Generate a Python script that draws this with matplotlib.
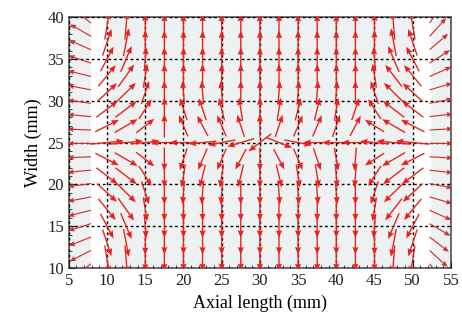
import numpy as np
import matplotlib.pyplot as plt

plt.rcParams['font.family'] = ['Liberation Serif', 'DejaVu Serif']

# grid of the main vector field (mm)
x_cols = [10, 12.5, 15, 17.5, 20, 22.5, 25, 27.5, 30, 32.5, 35, 37.5, 40, 42.5, 45, 47.5, 50]
y_rows = [39, 37, 35, 33, 31, 29, 27, 25, 23, 21, 19, 17, 15, 13, 11]

# arrow direction in degrees (0 = right, 90 = up), one row per y_rows entry
angle = [
    [80, 85, 90, 90, 90, 90, 90, 90, 90, 90, 90, 90, 90, 90, 90, 95, 100],
    [70, 78, 90, 90, 90, 90, 90, 90, 90, 90, 90, 90, 90, 90, 90, 102, 110],
    [60, 65, 85, 90, 90, 90, 90, 90, 90, 90, 90, 90, 90, 90, 95, 115, 120],
    [48, 52, 80, 90, 90, 90, 90, 90, 90, 90, 90, 90, 90, 90, 100, 130, 132],
    [40, 42, 70, 90, 95, 95, 95, 90, 90, 85, 85, 85, 85, 90, 110, 138, 140],
    [35, 35, 55, 90, 110, 110, 105, 100, 90, 80, 75, 75, 80, 70, 125, 145, 145],
    [25, 28, 35, 90, 115, 120, 115, 110, 90, 70, 65, 65, 70, 60, 150, 152, 155],
    [5, 5, 5, 180, 180, 185, 190, 195, 215, -20, -10, 180, 180, 180, 175, 175, 175],
    [-25, -28, -35, -90, -110, -115, -115, -120, -90, -60, -65, -70, -80, -95, -150, -152, -155],
    [-35, -35, -55, -90, -100, -105, -100, -105, -90, -75, -80, -80, -85, -95, -125, -145, -145],
    [-40, -42, -70, -90, -95, -95, -95, -90, -90, -85, -85, -85, -85, -90, -110, -138, -140],
    [-48, -52, -80, -90, -90, -90, -90, -90, -90, -90, -90, -90, -90, -90, -100, -130, -132],
    [-60, -65, -85, -90, -90, -90, -90, -90, -90, -90, -90, -90, -90, -90, -95, -115, -120],
    [-70, -78, -90, -90, -90, -90, -90, -90, -90, -90, -90, -90, -90, -90, -90, -102, -110],
    [-80, -85, -90, -90, -90, -90, -90, -90, -90, -90, -90, -90, -90, -90, -90, -95, -100],
]
# arrow length per column and per row (mm)
col_len = [3.4, 3.4, 2.9, 2.8, 2.8, 2.8, 2.8, 2.8, 2.8, 2.8, 2.8, 2.8, 2.8, 2.8, 2.9, 3.4, 3.4]
row_len = [1, 1, 1, 1, 1, 1, 1, 1.3, 1, 1, 1, 1, 1, 1, 1]

# edge fans
fan_y = [10.5, 12.1, 13.7, 15.3, 16.9, 18.5, 20.1, 21.7, 23.3, 24.9,
         26.5, 28.1, 29.7, 31.3, 32.9, 34.5, 36.1, 37.7, 39.3]
left_fan = [215, 205, 200, 196, 193, 190, 187, 185, 182, 180,
            178, 175, 173, 170, 167, 163, 158, 152, 145]
right_fan = [-50, -40, -35, -28, -22, -15, -10, -6, -3, 0,
             3, 6, 10, 15, 22, 30, 38, 45, 52]
left_x, right_x, fan_len = 7.9, 52.2, 3.1

red = '#e8231f'

fig = plt.figure(figsize=(4.62, 3.30), dpi=100)
ax = fig.add_axes([0.149, 0.188, 0.827, 0.76])
ax.set_facecolor('#edf1f1')
ax.axvspan(7.9, 9.9, color='white', zorder=0)
ax.axvspan(50.1, 52.2, color='white', zorder=0)

X, Y = np.meshgrid(x_cols, y_rows)
A = np.radians(np.array(angle, dtype=float))
L = np.array(col_len)[None, :] * np.array(row_len)[:, None]
ax.quiver(X, Y, L * np.cos(A), L * np.sin(A), angles='xy', scale_units='xy', scale=1,
          pivot='mid', color=red, width=0.0036, headwidth=4.5, headlength=5.5,
          headaxislength=5, zorder=3)

fa = np.radians(left_fan)
ax.quiver(np.full(len(fan_y), left_x), fan_y, fan_len * np.cos(fa), fan_len * np.sin(fa),
          angles='xy', scale_units='xy', scale=1, pivot='tail', color='#d0302b',
          width=0.003, headwidth=4.5, headlength=5.5, headaxislength=5, zorder=3)
fa = np.radians(right_fan)
ax.quiver(np.full(len(fan_y), right_x), fan_y, fan_len * np.cos(fa), fan_len * np.sin(fa),
          angles='xy', scale_units='xy', scale=1, pivot='tail', color='#d0302b',
          width=0.003, headwidth=4.5, headlength=5.5, headaxislength=5, zorder=3)

ax.set_xlim(5, 55)
ax.set_ylim(10, 40)
ax.set_xticks(range(5, 56, 5))
ax.set_yticks(range(10, 41, 5))
ax.set_xticks(range(5, 56), minor=True)
ax.set_yticks(range(10, 41), minor=True)
ax.tick_params(which='both', direction='in', labelsize=12, colors='#222222')
ax.tick_params(which='major', length=4)
ax.tick_params(which='minor', length=2)
ax.grid(True, which='major', color='black', linestyle=(0, (2, 2)), linewidth=1.0, zorder=2)
ax.set_axisbelow(False)
for s in ax.spines.values():
    s.set_color('#555555')
    s.set_linewidth(1.2)

ax.set_xlabel('Axial length (mm)', fontsize=13)
ax.set_ylabel('Width (mm)', fontsize=13)

fig.savefig('out.png', dpi=100)
